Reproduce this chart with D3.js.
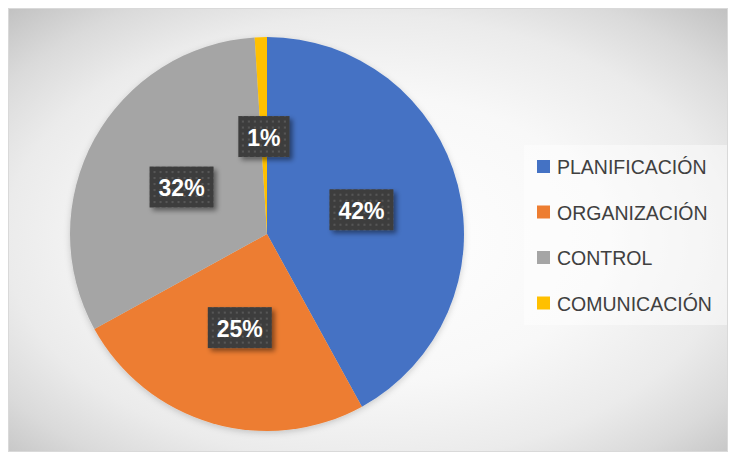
<!DOCTYPE html>
<html>
<head>
<meta charset="utf-8">
<script src="https://cdn.jsdelivr.net/npm/d3@7/dist/d3.min.js"></script>
<style>
  html, body { margin: 0; padding: 0; background: #ffffff; }
  svg { display: block; }
</style>
</head>
<body>
<script>
// Chart data
const categories = ["PLANIFICACIÓN", "ORGANIZACIÓN", "CONTROL", "COMUNICACIÓN"];
const values = [42, 25, 32, 1];
const sliceColors = ["#4472c4", "#ed7d31", "#a5a5a5", "#ffc000"];

const W = 735, H = 460;
const svg = d3.select("body").append("svg").attr("width", W).attr("height", H);
const defs = svg.append("defs");

// Radial background of the chart area
const bg = defs.append("radialGradient").attr("id", "bgGrad")
  .attr("cx", "0.5").attr("cy", "0.52").attr("r", "0.72");
[[0, "#ffffff"], [0.45, "#f8f8f8"], [0.7, "#ebebeb"], [0.85, "#dadada"], [1, "#c2c2c2"]]
  .forEach(([o, c]) => bg.append("stop").attr("offset", o).attr("stop-color", c));

// Dotted dark texture for the data labels
const pat = defs.append("pattern").attr("id", "dots")
  .attr("patternUnits", "userSpaceOnUse").attr("width", 6).attr("height", 6);
pat.append("rect").attr("width", 6).attr("height", 6).attr("fill", "#3e3e3e");
pat.append("rect").attr("x", 2).attr("y", 2).attr("width", 2).attr("height", 2).attr("fill", "#575757");

// Shadows
const ls = defs.append("filter").attr("id", "labelShadow")
  .attr("x", "-30%").attr("y", "-30%").attr("width", "160%").attr("height", "160%");
ls.append("feDropShadow").attr("dx", 3).attr("dy", 3).attr("stdDeviation", 2.5)
  .attr("flood-color", "#000").attr("flood-opacity", 0.45);
const ps = defs.append("filter").attr("id", "pieShadow")
  .attr("x", "-10%").attr("y", "-10%").attr("width", "120%").attr("height", "120%");
ps.append("feDropShadow").attr("dx", 0).attr("dy", 2).attr("stdDeviation", 3)
  .attr("flood-color", "#000").attr("flood-opacity", 0.18);

// Chart area
svg.append("rect").attr("x", 8.5).attr("y", 8.5).attr("width", 719).attr("height", 443)
  .attr("fill", "url(#bgGrad)").attr("stroke", "#d9d9d9").attr("stroke-width", 1);

// Pie
const cx = 267, cy = 234, r = 197;
const pie = d3.pie().sort(null).value(d => d);
const arcs = pie(values);
const arc = d3.arc().innerRadius(0).outerRadius(r);

const g = svg.append("g").attr("transform", `translate(${cx},${cy})`);
g.append("g").attr("filter", "url(#pieShadow)")
  .selectAll("path").data(arcs).join("path")
  .attr("d", arc)
  .attr("fill", (d, i) => sliceColors[i]);

// Data labels
const fontFam = "'Liberation Sans', Arial, sans-serif";
const labelArc = d3.arc().innerRadius(0).outerRadius(r - 2);
const lbl = g.selectAll("g.lbl").data(arcs).join("g").attr("class", "lbl")
  .attr("transform", d => `translate(${labelArc.centroid(d)})`);
lbl.each(function(d) {
  const sel = d3.select(this);
  const t = sel.append("text")
    .attr("text-anchor", "middle")
    .attr("dominant-baseline", "central")
    .attr("y", 1)
    .attr("fill", "#ffffff")
    .attr("font-family", fontFam)
    .attr("font-weight", "bold")
    .attr("font-size", 23)
    .text(d.data + "%");
  const w = t.node().getComputedTextLength() + 18;
  const h = 41;
  sel.insert("rect", "text")
    .attr("x", -w / 2).attr("y", -h / 2)
    .attr("width", w).attr("height", h)
    .attr("fill", "url(#dots)")
    .attr("filter", "url(#labelShadow)");
});

// Legend
const lg = svg.append("g");
lg.append("rect").attr("x", 524).attr("y", 145).attr("width", 203).attr("height", 180)
  .attr("fill", "#ffffff").attr("fill-opacity", 0.45);
const rowY = d3.scalePoint().domain(categories).range([166.5, 303]);
const items = lg.selectAll("g.item").data(categories).join("g").attr("class", "item")
  .attr("transform", d => `translate(0,${rowY(d)})`);
items.append("rect").attr("x", 537).attr("y", -6.5).attr("width", 13).attr("height", 13)
  .attr("fill", (d, i) => sliceColors[i]);
items.append("text").attr("x", 557).attr("y", 0.5)
  .attr("dominant-baseline", "central")
  .attr("fill", "#404040")
  .attr("font-family", fontFam)
  .attr("font-size", 19.5)
  .text(d => d);
</script>
</body>
</html>
